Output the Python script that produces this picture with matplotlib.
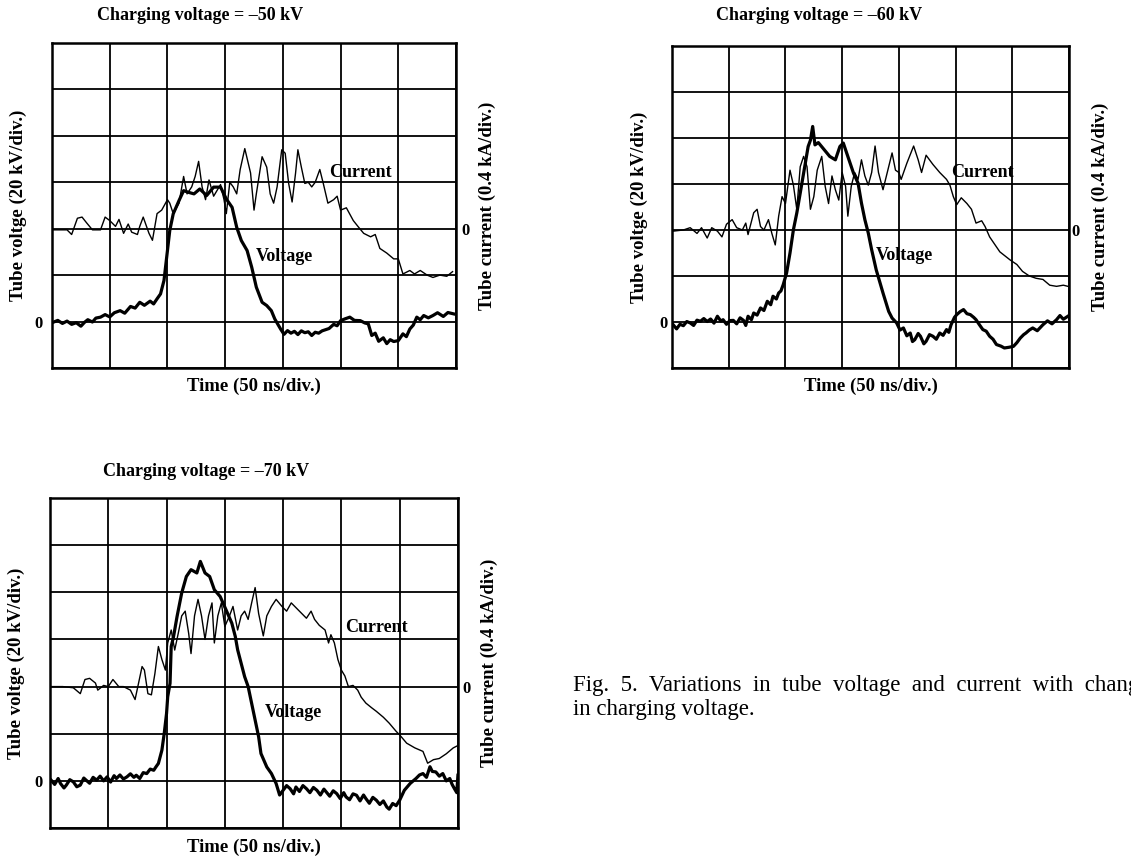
import matplotlib
matplotlib.use("Agg")
import matplotlib.pyplot as plt

plt.rcParams['font.family'] = ['Liberation Serif', 'DejaVu Serif']

# charging voltage of each shot (kV)
charging_kv = [-50, -60, -70]

# --- shot 1: -50 kV --- time (ns), tube voltage (kV), tube current (kA)
t1_v = [1, 5, 9, 13, 17, 21, 25, 28, 31, 35, 38, 42, 46, 50, 54, 59, 63, 68, 72, 76, 80, 85, 88, 91,
        94, 97, 100, 102, 105, 110, 114, 118, 123,
        128, 134, 140, 146, 151, 156, 160, 164, 169, 173, 177, 182, 186, 190, 193,
        198, 201, 204, 207, 210, 213, 216, 219, 222, 225, 228, 231, 234, 237, 240, 244, 247, 250, 254, 258,
        262, 267, 271, 274, 277, 280, 283, 287, 290, 293, 296, 300, 304, 307, 310, 313, 316, 319, 322, 326,
        330, 334, 339, 343, 348]
v1 = [-0.3, 0.5, -0.8, 0.2, -1.2, -0.5, -2.0, -0.4, 0.8, -0.2, 1.5, 1.9, 3.0, 2.0, 3.8, 4.7, 3.6, 6.5, 5.8, 8.3, 7.0, 8.8, 7.6, 9.8,
      11.9, 17.7, 30.6, 39.2, 46.4, 52.1, 56.4, 55.7, 55.0,
      57.1, 54.3, 57.9, 57.9, 52.8, 49.2, 40.6, 34.9, 30.6, 23.4, 14.8, 8.3, 6.9, 4.7, 1.1,
      -3.2, -5.5, -3.9, -5.0, -4.2, -5.6, -4.0, -4.8, -4.4, -6.0, -4.6, -5.0, -4.0, -3.5, -3.0, -1.2, -1.8, 0.4, 1.2, 1.9,
      0.5, 0.4, -0.6, -1.0, -6.0, -5.0, -8.5, -7.0, -9.5, -7.8, -8.6, -8.2, -5.3, -6.5, -3.2, -1.5, 1.9, 0.8, 2.6, 1.6,
      2.6, 3.8, 2.2, 3.9, 3.3]
t1_i = [1, 13, 17, 22, 26, 30, 35, 42, 46, 50, 55, 58, 62, 66, 69, 74, 76, 79, 84, 87,
        91, 95, 100, 102, 105, 110, 114, 117, 121, 124, 127, 130, 133, 136, 140, 143, 146, 149, 151, 154,
        157, 160, 163, 167, 172, 175, 177, 182, 186, 189, 192, 195, 199, 202, 205, 208, 211, 213, 216, 219,
        222, 225, 228, 232, 235, 239, 244, 247, 250, 255, 261, 265, 270, 276, 280, 284, 290, 296, 300, 304,
        310, 314, 319, 325, 330, 336, 342, 347]
i1 = [-0.01, -0.01, -0.05, 0.09, 0.10, 0.05, -0.01, -0.01, 0.10, 0.07, 0.02, 0.08, -0.04, 0.04, -0.03, -0.05, 0.02, 0.10, -0.04, -0.10,
      0.13, 0.16, 0.25, 0.22, 0.13, 0.22, 0.45, 0.30, 0.36, 0.45, 0.58, 0.36, 0.25, 0.42, 0.28, 0.33, 0.38, 0.25, 0.13, 0.40,
      0.36, 0.30, 0.51, 0.69, 0.48, 0.16, 0.30, 0.62, 0.53, 0.30, 0.22, 0.36, 0.68, 0.65, 0.39, 0.23, 0.48, 0.68, 0.53, 0.39,
      0.40, 0.36, 0.40, 0.51, 0.39, 0.22, 0.25, 0.28, 0.16, 0.18, 0.07, 0.02, -0.04, -0.07, -0.05, -0.17, -0.21, -0.26, -0.26, -0.39,
      -0.36, -0.39, -0.36, -0.40, -0.42, -0.40, -0.41, -0.37]

# --- shot 2: -60 kV ---
t2_v = [1, 4, 7, 10, 13, 16, 19, 22, 25, 28, 31, 34, 37, 40, 43, 45, 48, 51, 54, 57,
        60, 63, 65, 67, 70, 72, 75, 78, 81, 84, 87, 89, 92, 94, 96, 98,
        101, 104, 107, 110, 113, 117, 120, 122, 124, 126, 129, 133, 139, 144, 148, 151, 156, 160, 164, 167,
        170, 173, 176, 180, 186, 191, 194,
        198, 201, 204, 207, 210, 212, 214, 217, 219, 222, 224, 227, 230, 233, 236, 239, 242, 244, 246, 249,
        251, 254, 257, 260, 263, 266, 268, 271, 274, 277, 280, 283, 286, 290, 293, 297, 301, 304, 307, 310,
        312, 315, 318, 322, 327, 331, 335, 339, 342, 345, 349]
v2 = [-1.2, -3.0, -1.0, -1.6, 0.2, -0.4, -1.5, 0.8, 0.3, 1.5, 0.2, 1.3, -0.5, 2.5, 0.4, 1.0, -1.0, 0.6, 0.7, -0.8,
      1.8, 0.7, -1.5, 2.5, 1.0, 3.9, 3.0, 6.1, 5.0, 9.0, 7.5, 11.2, 10.0, 12.6, 13.5, 16.2,
      21.3, 30.0, 40.1, 47.4, 56.0, 67.6, 76.3, 79.0, 85.0, 77.0, 78.0, 75.6, 72.0, 70.5, 76.3, 77.8, 70.5, 64.7, 60.4, 51.7,
      44.5, 38.7, 31.4, 22.7, 12.6, 4.6, 1.7,
      -0.4, -3.5, -2.6, -6.0, -4.8, -8.5, -7.7, -5.0, -6.2, -9.5, -8.4, -5.5, -6.2, -7.5, -4.8, -5.8, -3.3, -4.5, -1.2, 2.0,
      3.2, 4.5, 5.4, 3.6, 3.2, 2.0, 1.0, -1.2, -3.3, -4.0, -6.2, -7.5, -9.8, -10.5, -11.3, -11.0, -10.6, -9.0, -7.0, -5.5,
      -4.8, -3.5, -2.6, -3.8, -1.2, 0.5, -0.8, 1.0, 2.8, 1.2, 2.5]
t2_i = [1, 10, 16, 22, 26, 31, 35, 40, 44, 48, 53, 57, 62, 65, 67, 72, 75, 78, 81, 85,
        88, 91, 94, 97, 100, 104, 107, 110, 113, 116, 119, 122, 125, 128, 132, 135, 138, 141, 144, 147,
        150, 153, 155, 158, 161, 164, 167, 170, 173, 176, 179, 182, 186, 189, 194, 197, 200, 202, 207, 213,
        217, 220, 224, 230, 236, 242, 245, 248, 251, 255, 260, 264, 268, 273, 276, 280, 289, 298, 304, 309,
        315, 321, 327, 333, 339, 345, 349]
i2 = [-0.01, 0.00, 0.02, -0.03, 0.02, -0.07, 0.02, -0.01, -0.06, 0.05, 0.09, 0.02, 0.00, 0.06, -0.04, 0.15, 0.18, 0.03, 0.00, 0.09,
      -0.03, -0.13, 0.12, 0.29, 0.23, 0.52, 0.39, 0.18, 0.55, 0.64, 0.55, 0.18, 0.29, 0.52, 0.64, 0.38, 0.23, 0.47, 0.35, 0.26,
      0.50, 0.38, 0.12, 0.38, 0.50, 0.44, 0.61, 0.47, 0.39, 0.50, 0.73, 0.50, 0.35, 0.47, 0.67, 0.52, 0.50, 0.44, 0.58, 0.73,
      0.61, 0.50, 0.65, 0.57, 0.50, 0.44, 0.39, 0.29, 0.22, 0.28, 0.23, 0.18, 0.06, 0.08, 0.03, -0.06, -0.19, -0.26, -0.30, -0.36,
      -0.40, -0.42, -0.43, -0.48, -0.49, -0.48, -0.49]

# --- shot 3: -70 kV ---
t3_v = [1, 4, 7, 9, 12, 14, 17, 20, 23, 26, 29, 31, 34, 37, 40, 43, 46, 49, 52, 55,
        57, 60, 63, 66, 69, 72, 74, 77, 80, 83, 86, 89, 91, 93,
        96, 98, 100, 101, 103, 104, 106, 109, 113, 117, 121, 126, 129, 133, 137, 141, 146, 151, 156, 159,
        161, 164, 167, 170, 173, 176, 179, 181, 186, 190,
        194, 197, 200, 203, 206, 209, 211, 214, 217, 220, 223, 226, 229, 232, 235, 237, 240, 243, 246, 249,
        252, 254, 257, 260, 263, 266, 269, 271, 274, 277, 280, 283, 286, 289, 291, 294, 297, 300, 304, 309,
        314, 317, 320, 323, 326, 328, 331, 334, 337, 340, 343, 345, 347, 349, 350]
v3 = [0.3, -1.5, 1.0, -1.1, -3.0, -1.8, 0.5, -0.4, -2.5, -1.8, 1.2, 0.3, -1.0, 1.5, 0.3, 2.0, 0.0, 1.7, -0.5, 2.2,
      1.0, 2.5, 0.8, 1.7, 3.0, 1.5, 2.4, 1.0, 3.5, 3.1, 5.0, 4.5, 6.0, 7.4,
      13.0, 20.1, 28.6, 35.7, 41.4, 57.0, 61.2, 69.7, 79.7, 86.7, 89.6, 88.2, 93.1, 88.2, 86.7, 81.1, 78.2, 72.6, 66.9, 61.2,
      55.6, 49.9, 44.2, 40.0, 32.9, 25.8, 18.7, 11.6, 5.9, 3.1,
      -1.1, -6.0, -4.0, -2.0, -3.3, -5.5, -2.6, -4.5, -2.0, -3.3, -5.0, -2.8, -4.0, -6.0, -3.5, -4.7, -6.5, -4.2, -5.4, -7.5,
      -5.0, -6.8, -8.0, -5.5, -6.1, -8.5, -6.0, -7.5, -9.5, -7.0, -8.2, -10.0, -8.5, -11.1, -12.0, -9.6, -10.5, -8.2, -4.0, -1.1,
      1.0, 2.5, 3.1, 1.5, 6.0, 4.0, 3.8, 2.0, 3.1, 0.0, 1.0, -1.5, -3.3, -5.0, 2.4]
t3_i = [1, 11, 20, 26, 30, 34, 39, 41, 46, 50, 54, 59, 63, 69, 73, 76, 79, 81, 84, 87,
        90, 93, 96, 99, 101, 104, 107, 110, 113, 116, 119, 121, 124, 127, 130, 133, 136, 139, 141, 144,
        147, 150, 154, 157, 161, 164, 167, 170, 173, 176, 179, 183, 186, 190, 194, 199, 203, 207, 211, 216,
        220, 224, 227, 231, 236, 239, 241, 244, 247, 250, 253, 256, 260, 264, 267, 271, 276, 280, 286, 291,
        297, 300, 306, 313, 320, 324, 329, 334, 340, 346, 350]
i3 = [0.00, 0.00, -0.01, -0.06, 0.06, 0.07, 0.03, -0.03, 0.01, 0.00, 0.06, 0.00, 0.00, -0.03, -0.11, 0.03, 0.17, 0.14, -0.06, -0.07,
      0.11, 0.34, 0.23, 0.14, 0.37, 0.48, 0.31, 0.45, 0.60, 0.64, 0.45, 0.28, 0.60, 0.74, 0.60, 0.40, 0.60, 0.71, 0.37, 0.60,
      0.71, 0.51, 0.60, 0.68, 0.48, 0.60, 0.64, 0.57, 0.71, 0.84, 0.62, 0.43, 0.60, 0.68, 0.74, 0.68, 0.64, 0.71, 0.67, 0.62,
      0.58, 0.64, 0.57, 0.52, 0.48, 0.37, 0.44, 0.37, 0.23, 0.14, 0.09, 0.00, 0.01, -0.03, -0.09, -0.14, -0.18, -0.21, -0.26, -0.31,
      -0.38, -0.41, -0.48, -0.52, -0.55, -0.65, -0.62, -0.61, -0.57, -0.52, -0.50]

# label positions (ns, kV) of the trace names
current_lbl = [(267, 64), (274, 65), (280, 65)]
voltage_lbl = [(201, 28), (205, 29), (209, 29)]

# justified caption line: wide word spacing
caption = ["Fig.  5.  Variations  in  tube  voltage  and  current  with  change",
           "in charging voltage."]

shots = [(t1_v, v1, t1_i, i1), (t2_v, v2, t2_i, i2), (t3_v, v3, t3_i, i3)]
rects = [[0.0460, 0.5726, 0.3572, 0.3775],
         [0.5942, 0.5726, 0.3510, 0.3740],
         [0.0442, 0.0383, 0.3607, 0.3833]]
title_pos = [(0.366, 1.086), (0.370, 1.096), (0.382, 1.079)]
pads = [(6.5, 3.5), (3.0, 1.5), (5.0, 3.5)]

fig = plt.figure(figsize=(11.31, 8.61), dpi=100)

for k in range(3):
    tv, vv, ti, ii = shots[k]
    ax = fig.add_axes(rects[k])
    ax2 = ax.twinx()

    ax.set_xlim(0, 350)
    ax.set_ylim(-20, 120)
    ax2.set_ylim(-1.2, 1.6)

    ax.set_xticks(range(0, 351, 50))
    ax.set_xticklabels([])
    ax.set_yticks(range(-20, 121, 20))
    ax.set_yticklabels(['0' if y == 0 else '' for y in range(-20, 121, 20)])
    ax2.set_yticks([0])
    ax2.set_yticklabels(['0'])
    ax.tick_params(length=0, labelsize=12, pad=pads[k][0])
    ax2.tick_params(length=0, labelsize=12, pad=pads[k][1])
    for lab in ax.get_yticklabels() + ax2.get_yticklabels():
        lab.set_fontweight('bold')

    ax.grid(True, color='black', linewidth=1.3)
    ax.set_axisbelow(True)
    for sp in ax.spines.values():
        sp.set_linewidth(1.8)
    for sp in ax2.spines.values():
        sp.set_visible(False)

    ax.plot(tv, vv, color='black', linewidth=2.3, zorder=3)
    ax2.plot(ti, ii, color='black', linewidth=1.0, zorder=3)

    ax.text(current_lbl[k][0], current_lbl[k][1], 'Current', fontsize=13, fontweight='bold',
            ha='center', va='center', zorder=4)
    ax.text(voltage_lbl[k][0], voltage_lbl[k][1], 'Voltage', fontsize=13, fontweight='bold',
            ha='center', va='center', zorder=4)

    ax.text(title_pos[k][0], title_pos[k][1], 'Charging voltage = \u2013%d kV' % abs(charging_kv[k]),
            transform=ax.transAxes, fontsize=13, fontweight='bold', ha='center', va='center')
    ax.text(0.5, -0.058, 'Time (50 ns/div.)', transform=ax.transAxes, fontsize=13.5,
            fontweight='bold', ha='center', va='center')
    ax.text(-0.083, 0.5, 'Tube voltge (20 kV/div.)', transform=ax.transAxes, fontsize=13.5,
            fontweight='bold', ha='center', va='center', rotation=90)
    ax.text(1.078, 0.5, 'Tube current (0.4 kA/div.)', transform=ax.transAxes, fontsize=13.5,
            fontweight='bold', ha='center', va='center', rotation=90)

fig.text(573 / 1131, 1 - 685 / 861, caption[0], fontsize=16.5, ha='left', va='center')
fig.text(573 / 1131, 1 - 710 / 861, caption[1], fontsize=16.5, ha='left', va='center')

fig.savefig('out.png', dpi=100)
